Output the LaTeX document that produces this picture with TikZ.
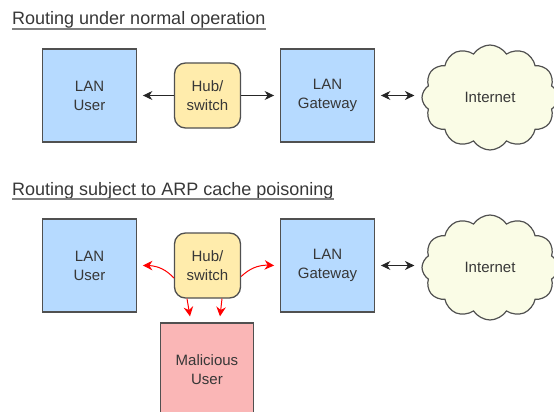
\documentclass[tikz,border=0pt]{standalone}
\usepackage{fontspec}
\setmainfont{Liberation Sans}
\usetikzlibrary{shapes.symbols,arrows.meta,bending}
\definecolor{lanblue}{RGB}{182,218,255}
\definecolor{hubfill}{RGB}{255,236,172}
\definecolor{cloudfill}{RGB}{250,252,230}
\definecolor{malfill}{RGB}{250,182,182}
\definecolor{edge}{RGB}{80,80,80}
\definecolor{txt}{RGB}{55,55,55}
\definecolor{arrowred}{RGB}{255,0,0}
\newcommand\boxfont{\fontsize{15}{19}\selectfont}
\newcommand\titlefont{\fontsize{18}{22}\selectfont}
\begin{document}
\begin{tikzpicture}[x=1pt,y=-1pt,
  lanbox/.style={draw=edge, line width=1.3pt, fill=lanblue, minimum width=93.5pt, minimum height=93pt, inner sep=0pt, align=center, font=\boxfont, text=txt},
  hubbox/.style={draw=edge, line width=1.3pt, fill=hubfill, rounded corners=11pt, minimum width=66pt, minimum height=65pt, inner sep=0pt, align=center, font=\boxfont, text=txt},
  malbox/.style={draw=edge, line width=1.3pt, fill=malfill, minimum width=92.5pt, minimum height=94pt, inner sep=0pt, align=center, font=\boxfont, text=txt},
  netcloud/.style={cloud, cloud puffs=12, cloud puff arc=115, cloud ignores aspect, minimum width=136pt, minimum height=105pt, inner sep=0pt, draw=edge, line width=1.2pt, fill=cloudfill, font=\boxfont, text=txt},
  titletext/.style={anchor=base west, inner sep=0pt, font=\titlefont, text=txt},
  uline/.style={draw=gray, line width=1.4pt},
  blk/.style={draw=black!85, line width=1pt, -{Stealth[length=9.5pt,width=9pt]}},
  blkdbl/.style={draw=black!85, line width=1pt, {Stealth[length=9.5pt,width=9pt]}-{Stealth[length=9.5pt,width=9pt]}},
  redarr/.style={draw=arrowred, line width=1pt, -{Stealth[length=9.5pt,width=9.5pt,flex]}}
]
\useasboundingbox (0,0) rectangle (554,412);
\clip (0,0) rectangle (554,412);

% ---- top: normal operation ----
\node[titletext] (t1) at (12,25) {Routing under normal operation};
\draw[uline] ([yshift=-4pt]t1.base west) -- ([yshift=-4pt]t1.base east);

\node[lanbox] (user1) at (89.5,95.5) {LAN\\User};
\node[hubbox] (hub1) at (207.5,95.5) {Hub/\\switch};
\node[lanbox] (gw1) at (327.5,95.5) {LAN\\Gateway};
\node[netcloud] (cloud1) at (490,97.5) {Internet};

\draw[blk, shorten >=6pt] (hub1) -- (user1);
\draw[blk, shorten >=6pt] (hub1) -- (gw1);
\draw[blkdbl, shorten <=6pt, shorten >=7pt] (gw1.east) -- (gw1.east -| cloud1.west);

% ---- bottom: ARP cache poisoning ----
\node[titletext] (t2) at (12,195) {Routing subject to ARP cache poisoning};
\draw[uline] ([yshift=-4pt]t2.base west) -- ([yshift=-4pt]t2.base east);

\node[lanbox] (user2) at (89.5,265.5) {LAN\\User};
\node[hubbox] (hub2) at (207.5,265.5) {Hub/\\switch};
\node[lanbox] (gw2) at (327.5,265.5) {LAN\\Gateway};
\node[netcloud] (cloud2) at (490,267.5) {Internet};
\node[malbox] (mal) at (207,370) {Malicious\\User};

\draw[blkdbl, shorten <=6pt, shorten >=7pt] (gw2.east) -- (gw2.east -| cloud2.west);

\draw[redarr] ([yshift=-12.5pt]hub2.west) to[bend right=25] ([xshift=6pt]user2.east);
\draw[redarr] ([yshift=-11pt]hub2.east) to[bend left=25] ([xshift=-6pt]gw2.west);
\draw[redarr] ([xshift=-20.5pt]hub2.south) -- ([xshift=-17pt,yshift=6pt]mal.north);
\draw[redarr] ([xshift=14.5pt]hub2.south) -- ([xshift=13pt,yshift=6pt]mal.north);
\end{tikzpicture}
\end{document}
